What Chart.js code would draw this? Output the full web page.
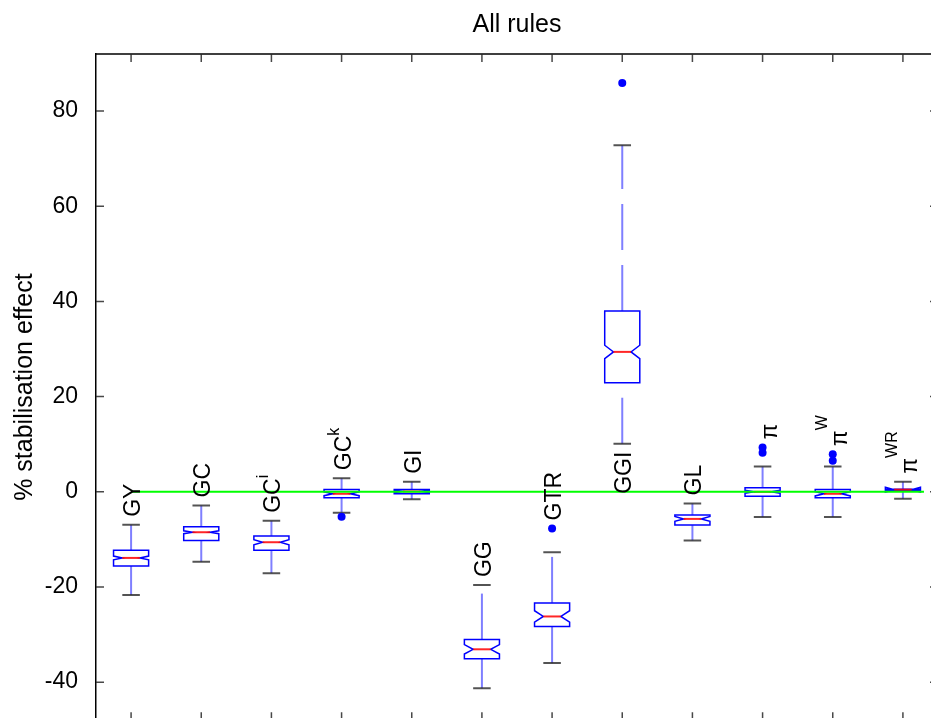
<!DOCTYPE html>
<html><head><meta charset="utf-8">
<script src="https://cdn.jsdelivr.net/npm/chart.js@4.4.0/dist/chart.umd.min.js"></script>
<style>
html,body{margin:0;padding:0;overflow:hidden;background:#fff;width:931px;height:718px}
#wrap{position:absolute;left:0;top:0;width:945px;height:744px}
</style>
</head><body><div id="wrap"><canvas id="c" width="945" height="744"></canvas></div>
<script>
// ---- data ----
const categories  = ['GY','GC','GCi','GCk','GI','GG','GTR','GGI','GL','π','πW','πWR'];
const labelBase   = ['GY','GC','GC','GC','GI','GG','GTR','GGI','GL','π','π','π'];
const labelSup    = ['','','i','k','','','','','','','W','WR'];
const whiskerLow  = [-21.7,-14.7,-17.1,-4.4,-1.55,-41.3,-36.0,10.1,-10.24,-5.3,-5.3,-1.47];
const q1          = [-15.6,-10.24,-12.3,-1.27,-0.42,-35.1,-28.3,22.9,-7.0,-0.92,-1.27,0.25];
const median      = [-13.9,-8.5,-10.6,-0.42,0.06,-33.1,-26.2,29.4,-5.7,0.0,-0.42,0.45];
const q3          = [-12.3,-7.36,-9.3,0.48,0.48,-31.06,-23.35,38.0,-4.9,0.84,0.48,0.55];
const whiskerHigh = [-6.94,-2.88,-6.1,2.86,2.1,-19.6,-12.7,72.8,-2.46,5.3,5.3,2.1];
const notchHalf   = [0.4,0.3,0.55,0.4,0.2,1.0,1.2,1.4,0.5,0.3,0.45,0.5];
const outliers    = [[],[],[],[-5.26],[],[],[-7.7],[85.9],[],[9.3,8.2],[7.9,6.5],[]];
const yTicks      = [-40,-20,0,20,40,60,80];
const zeroLineX   = [1, 12.3];

const FONT = '"Liberation Sans", Arial, Helvetica, sans-serif';

const outlierPoints = outliers.flatMap((arr, i) => arr.map(v => ({x: i + 1, y: v})));

const boxPlugin = {
  id: 'boxes',
  beforeDatasetsDraw(chart) {
    const {ctx, scales: {x, y}} = chart;
    const hw = x.getPixelForValue(1.25) - x.getPixelForValue(1);
    const cw = hw / 2;
    ctx.save();
    for (let i = 0; i < categories.length; i++) {
      const cx = x.getPixelForValue(i + 1);
      const L = cx - hw, R = cx + hw;
      const pq1 = y.getPixelForValue(q1[i]), pq3 = y.getPixelForValue(q3[i]);
      const pm = y.getPixelForValue(median[i]);
      const nlo = y.getPixelForValue(median[i] - notchHalf[i]);
      const nhi = y.getPixelForValue(median[i] + notchHalf[i]);
      const pwl = y.getPixelForValue(whiskerLow[i]), pwh = y.getPixelForValue(whiskerHigh[i]);
      // whiskers (dashed, drawn from lower end upward)
      ctx.strokeStyle = 'rgba(0,0,255,0.5)';
      ctx.lineWidth = 2;
      ctx.setLineDash([46, 15]);
      ctx.beginPath(); ctx.moveTo(cx, pq3); ctx.lineTo(cx, pwh); ctx.stroke();
      ctx.beginPath(); ctx.moveTo(cx, pwl); ctx.lineTo(cx, pq1); ctx.stroke();
      ctx.setLineDash([]);
      // caps
      ctx.strokeStyle = 'rgba(40,40,40,0.8)';
      ctx.lineWidth = 2;
      ctx.beginPath();
      ctx.moveTo(cx - cw, pwh); ctx.lineTo(cx + cw, pwh);
      ctx.moveTo(cx - cw, pwl); ctx.lineTo(cx + cw, pwl);
      ctx.stroke();
      // notched box
      ctx.strokeStyle = '#0000ff';
      ctx.lineWidth = 1.5;
      ctx.beginPath();
      ctx.moveTo(L, pq1); ctx.lineTo(L, nlo); ctx.lineTo(L + hw / 2, pm); ctx.lineTo(L, nhi);
      ctx.lineTo(L, pq3); ctx.lineTo(R, pq3); ctx.lineTo(R, nhi); ctx.lineTo(R - hw / 2, pm);
      ctx.lineTo(R, nlo); ctx.lineTo(R, pq1); ctx.closePath();
      ctx.stroke();
      // median
      ctx.strokeStyle = 'rgba(255,0,0,0.85)';
      ctx.lineWidth = 2;
      ctx.beginPath(); ctx.moveTo(L + hw / 2, pm); ctx.lineTo(R - hw / 2, pm); ctx.stroke();
    }
    ctx.restore();
  },
  afterDraw(chart) {
    const {ctx, chartArea: a, scales: {x, y}} = chart;
    ctx.save();
    // frame (top/right/bottom)
    ctx.strokeStyle = '#000';
    ctx.lineWidth = 1.5;
    ctx.beginPath();
    ctx.moveTo(a.left, a.top); ctx.lineTo(a.right, a.top); ctx.lineTo(a.right, a.bottom); ctx.lineTo(a.left, a.bottom);
    ctx.stroke();
    // inward ticks
    ctx.strokeStyle = 'rgba(40,40,40,0.85)';
    ctx.lineWidth = 1.5;
    const tl = 8;
    ctx.beginPath();
    yTicks.forEach(v => {
      const py = y.getPixelForValue(v);
      ctx.moveTo(a.left, py); ctx.lineTo(a.left + tl, py);
      ctx.moveTo(a.right, py); ctx.lineTo(a.right - tl, py);
    });
    categories.forEach((c, i) => {
      const px = x.getPixelForValue(i + 1);
      ctx.moveTo(px, a.top); ctx.lineTo(px, a.top + tl);
      ctx.moveTo(px, a.bottom); ctx.lineTo(px, a.bottom - tl);
    });
    ctx.stroke();
    // category labels (rotated)
    ctx.fillStyle = '#000';
    for (let i = 0; i < categories.length; i++) {
      const px = x.getPixelForValue(i + 1);
      const top = Math.max(whiskerHigh[i], ...outliers[i]);
      let startY;
      if (top > 50) startY = y.getPixelForValue(0) + 2;
      else startY = y.getPixelForValue(top) - 8;
      ctx.save();
      ctx.translate(px, startY);
      ctx.rotate(-Math.PI / 2);
      ctx.textAlign = 'left';
      ctx.textBaseline = 'alphabetic';
      ctx.font = '23px ' + FONT;
      const bOff = labelBase[i] === 'π' ? 14 : 9;
      ctx.fillText(labelBase[i], 0, bOff);
      if (labelSup[i]) {
        const w = ctx.measureText(labelBase[i]).width;
        ctx.font = '16px ' + FONT;
        ctx.fillText(labelSup[i], w, labelBase[i] === 'π' ? -6 : -3);
      }
      ctx.restore();
    }
    ctx.restore();
  }
};

new Chart(document.getElementById('c'), {
  type: 'scatter',
  data: {
    datasets: [
      {
        type: 'line',
        data: zeroLineX.map(v => ({x: v, y: 0})),
        borderColor: '#00ff00',
        borderWidth: 2,
        pointRadius: 0,
        fill: false
      },
      {
        type: 'scatter',
        data: outlierPoints,
        pointRadius: 4,
        pointBackgroundColor: '#0000ff',
        pointBorderWidth: 0,
        borderColor: '#0000ff'
      }
    ]
  },
  options: {
    responsive: false,
    animation: false,
    devicePixelRatio: 1,
    layout: {padding: {left: 0, right: 7, top: 0, bottom: 10}},
    plugins: {
      legend: {display: false},
      tooltip: {enabled: false},
      title: {
        display: true,
        text: 'All rules',
        fullSize: false,
        color: '#000',
        font: {family: FONT, size: 25, weight: 'normal'},
        padding: {top: 10, bottom: 14}
      }
    },
    scales: {
      x: {type: 'linear', min: 0.5, max: 12.5, display: false},
      y: {
        type: 'linear', min: -48, max: 92,
        afterBuildTicks: s => { s.ticks = yTicks.map(v => ({value: v})); },
        afterFit: s => { s.width = 96; },
        ticks: {font: {family: FONT, size: 23}, color: '#000', padding: 10},
        grid: {display: false},
        border: {display: true, color: '#000', width: 1.5},
        title: {
          display: true, text: '% stabilisation effect', color: '#000',
          font: {family: FONT, size: 25}, padding: {top: 10, bottom: 0}
        }
      }
    }
  },
  plugins: [boxPlugin]
});
</script>
</body></html>
